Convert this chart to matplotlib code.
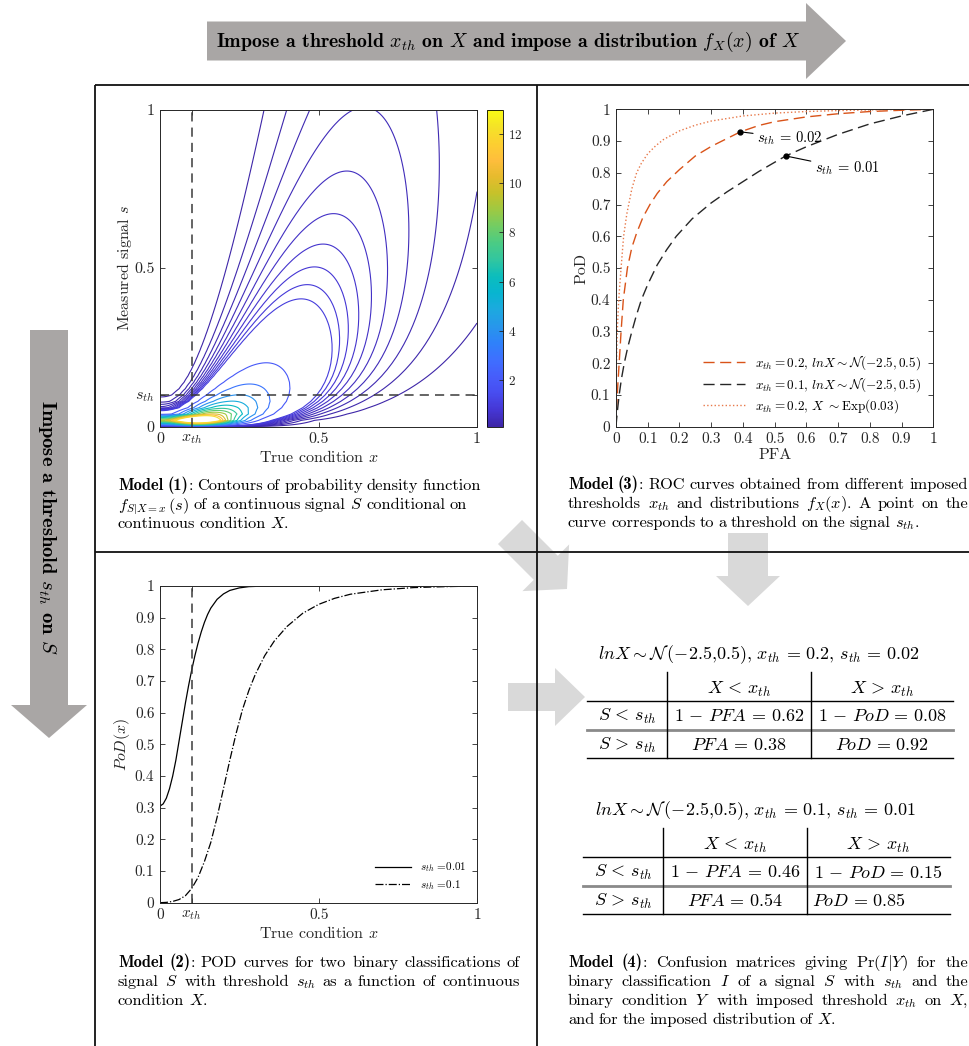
import numpy as np
import matplotlib
matplotlib.use("Agg")
import matplotlib.pyplot as plt
from matplotlib.colors import LinearSegmentedColormap, Normalize
from matplotlib.cm import ScalarMappable
from matplotlib.patches import Polygon

plt.rcParams['font.family'] = 'serif'
plt.rcParams['font.serif'] = ['cmr10']
plt.rcParams['mathtext.fontset'] = 'cm'
plt.rcParams['axes.formatter.use_mathtext'] = True
plt.rcParams['axes.unicode_minus'] = False

# ---------------- data ----------------
# Model (1): lognormal signal S|X=x, median m(x) = m0 + a x^p, log-sd sigma,
# evaluated on a coarse signal grid (step 0.02) as in the original figure
med_m0, med_a, med_p = 0.006, 3.0, 2.5
sig_log = 0.99
s_step = 0.02
x_th, s_th = 0.1, 0.1
contour_levels = [0.1, 0.2, 0.3, 0.4, 0.5, 0.6, 0.7, 0.8, 0.9, 1, 2, 3, 4, 5, 6, 7, 8, 9, 10, 11, 12]
cbar_range = (0.1, 13)
cbar_ticks = [2, 4, 6, 8, 10, 12]

# Model (2): PoD(x) curves
pod_x_a = [0, 0.01, 0.02, 0.03, 0.04, 0.05, 0.06, 0.07, 0.08, 0.09, 0.1, 0.11, 0.12, 0.13,
           0.14, 0.15, 0.16, 0.18, 0.2, 0.22, 0.25, 0.28, 0.32, 0.38, 0.45, 0.6, 1.0]
pod_y_a = [0.305, 0.312, 0.33, 0.36, 0.40, 0.45, 0.51, 0.57, 0.63, 0.685, 0.735, 0.78, 0.82,
           0.855, 0.885, 0.91, 0.93, 0.958, 0.975, 0.986, 0.994, 0.998, 0.9995, 1, 1, 1, 1]
pod_x_b = [0, 0.02, 0.04, 0.06, 0.08, 0.1, 0.12, 0.14, 0.16, 0.18, 0.2, 0.22, 0.24, 0.26,
           0.28, 0.3, 0.33, 0.36, 0.4, 0.45, 0.5, 0.55, 0.6, 0.7, 0.8, 0.9, 1.0]
pod_y_b = [0.0, 0.001, 0.004, 0.01, 0.022, 0.045, 0.08, 0.13, 0.19, 0.27, 0.36, 0.45, 0.535,
           0.61, 0.67, 0.72, 0.78, 0.826, 0.872, 0.914, 0.942, 0.961, 0.974, 0.988, 0.995, 0.998, 1.0]
pod_labels = [r'$s_{th}$ =0.01', r'$s_{th}$ =0.1']

# Model (3): ROC curves
roc_a_pfa = [0, 0.002, 0.005, 0.01, 0.016, 0.023, 0.036, 0.05, 0.065, 0.085, 0.107, 0.13,
             0.16, 0.2, 0.25, 0.3, 0.35, 0.392, 0.45, 0.5, 0.6, 0.7, 0.8, 0.9, 1.0]
roc_a_pod = [0, 0.06, 0.12, 0.2, 0.3, 0.4, 0.5, 0.565, 0.61, 0.66, 0.7, 0.735,
             0.772, 0.81, 0.853, 0.883, 0.908, 0.929, 0.949, 0.961, 0.976, 0.986, 0.993, 0.997, 1.0]
roc_b_pfa = [0, 0.002, 0.005, 0.01, 0.017, 0.026, 0.037, 0.05, 0.064, 0.08, 0.1, 0.13, 0.16,
             0.19, 0.24, 0.3, 0.35, 0.4, 0.45, 0.5, 0.535, 0.6, 0.7, 0.8, 0.9, 1.0]
roc_b_pod = [0, 0.025, 0.055, 0.1, 0.15, 0.2, 0.25, 0.3, 0.35, 0.4, 0.448, 0.51, 0.558,
             0.6, 0.655, 0.705, 0.74, 0.772, 0.804, 0.833, 0.853, 0.882, 0.921, 0.954, 0.979, 1.0]
roc_c_pfa = [0, 0.001, 0.002, 0.004, 0.007, 0.01, 0.016, 0.024, 0.034, 0.05, 0.065, 0.08,
             0.1, 0.125, 0.15, 0.2, 0.25, 0.3, 0.4, 0.5, 0.6, 0.7, 0.85, 1.0]
roc_c_pod = [0, 0.15, 0.22, 0.3, 0.37, 0.42, 0.5, 0.6, 0.67, 0.75, 0.8, 0.83,
             0.86, 0.885, 0.905, 0.932, 0.95, 0.963, 0.979, 0.988, 0.993, 0.996, 0.999, 1.0]
roc_labels = [r'$x_{th}=0.2,\, lnX\sim\mathcal{N}(-2.5,0.5)$',
              r'$x_{th}=0.1,\, lnX\sim\mathcal{N}(-2.5,0.5)$',
              r'$x_{th}=0.2,\, X\ {\sim}$Exp$(0.03)$']
mark_pfa = [0.392, 0.535]
mark_pod = [0.929, 0.853]
mark_text = [r'$s_{th}\,=\,0.02$', r'$s_{th}\,=\,0.01$']
mark_text_pos = [(0.445, 0.91), (0.627, 0.813)]

# Model (4): confusion matrices
tab_titles = [r'$lnX{\sim}\mathcal{N}\,(-2.5{,}0.5),\,x_{th}\,=\,0.2,\,s_{th}\,=\,0.02$',
              r'$lnX{\sim}\mathcal{N}\,(-2.5{,}0.5),\,x_{th}\,=\,0.1,\,s_{th}\,=\,0.01$']
tab_pfa = [0.38, 0.54]
tab_pod = [0.92, 0.85]

parula = LinearSegmentedColormap.from_list('parula', [
    (0.2422, 0.1504, 0.6603), (0.2706, 0.2147, 0.8364), (0.2813, 0.3006, 0.9414),
    (0.2760, 0.3667, 0.9829), (0.2440, 0.4358, 0.9988), (0.1834, 0.5074, 0.9798),
    (0.1540, 0.5902, 0.9218), (0.1113, 0.6635, 0.8763), (0.0297, 0.7082, 0.8163),
    (0.0433, 0.7411, 0.7394), (0.1938, 0.7758, 0.6251), (0.2906, 0.7973, 0.5188),
    (0.4456, 0.8024, 0.3909), (0.6174, 0.7876, 0.2612), (0.7738, 0.7598, 0.1646),
    (0.9035, 0.7330, 0.1774), (0.9956, 0.7434, 0.2371), (0.9892, 0.8136, 0.1885),
    (0.9610, 0.8890, 0.1537), (0.9769, 0.9839, 0.0805)])

axcol = '#262626'
W, H = 970, 1046

fig = plt.figure(figsize=(9.7, 10.46), dpi=100)
ov = fig.add_axes([0, 0, 1, 1])
ov.set_xlim(0, W)
ov.set_ylim(H, 0)
ov.axis('off')


def px_axes(x0, y0, x1, y1):
    return fig.add_axes([x0 / W, 1 - y1 / H, (x1 - x0) / W, (y1 - y0) / H])


def arrow(x0, y0, x1, y1, body, head, head_len, color):
    d = np.array([x1 - x0, y1 - y0], float)
    L = np.hypot(*d)
    u = d / L
    n = np.array([-u[1], u[0]])
    a = L - head_len
    loc = [(0, -body / 2), (a, -body / 2), (a, -head / 2), (L, 0),
           (a, head / 2), (a, body / 2), (0, body / 2)]
    pts = [np.array([x0, y0]) + p * u + q * n for p, q in loc]
    ov.add_patch(Polygon(pts, closed=True, facecolor=color, edgecolor='none'))


def style(ax, size=11):
    ax.tick_params(direction='in', top=True, right=True, length=3.5, width=0.6,
                   colors=axcol, labelsize=size, pad=4)
    for sp in ax.spines.values():
        sp.set_linewidth(0.7)
        sp.set_color(axcol)


# panel borders
for xs, ys in [([95, 95], [85, H]), ([537, 537], [85, H]), ([95, W], [85, 85]), ([95, W], [552, 552])]:
    ov.plot(xs, ys, color='#111111', lw=1.3, solid_capstyle='butt')

# big grey arrows
arrow(207, 41, 846, 41, 39, 76, 40, '#a9a6a5')
arrow(49, 330, 49, 738, 38, 76, 33, '#a9a6a5')
ov.text(508, 42, r'Impose a threshold $x_{th}$ on $X$ and impose a distribution $f_X(x)$ of $X$',
        family='cmb10', fontsize=14.3, ha='center', va='center')
ov.text(47, 527, r'Impose a threshold $s_{th}$ on $S$', family='cmb10', fontsize=14.8,
        ha='center', va='center', rotation=-90)

# light grey arrows
arrow(510, 532, 567, 589, 34, 66, 30, '#d9d9d9')
arrow(748, 533, 748, 606, 40, 64, 30, '#d9d9d9')
arrow(508, 697, 585, 697, 28, 58, 30, '#d9d9d9')

# ---------------- Model (1) contour ----------------
ax1 = px_axes(160, 109.5, 477, 426.7)
xg = np.linspace(0, 1, 201)
sg = np.arange(0, 1 + s_step / 2, s_step)
Xg, Sg = np.meshgrid(xg, sg)
med = med_m0 + med_a * Xg ** med_p
with np.errstate(divide='ignore', invalid='ignore'):
    Z = np.exp(-(np.log(Sg) - np.log(med)) ** 2 / (2 * sig_log ** 2)) / (Sg * sig_log * np.sqrt(2 * np.pi))
Z[0, :] = 0
norm = Normalize(*cbar_range)
ax1.contour(Xg, Sg, Z, levels=contour_levels, cmap=parula, norm=norm, linewidths=0.8)
ax1.axvline(x_th, color='#3a3a3a', lw=1.1, dashes=(6, 4))
ax1.axhline(s_th, color='#3a3a3a', lw=1.1, dashes=(6, 4))
ax1.set_xlim(0, 1)
ax1.set_ylim(0, 1)
ax1.set_xticks([0, x_th, 0.5, 1], ['0', r'$x_{th}$', '0.5', '1'])
ax1.set_yticks([0, s_th, 0.5, 1], ['0', r'$s_{th}$', '0.5', '1'])
style(ax1, 11.5)
ax1.set_xlabel(r'True condition $x$', fontsize=11.5, color=axcol, labelpad=2)
ax1.set_ylabel(r'Measured signal $s$', fontsize=11.5, color=axcol, labelpad=0)

cax = px_axes(487.5, 109.5, 503.3, 426.7)
cb = fig.colorbar(ScalarMappable(norm=norm, cmap=parula), cax=cax)
cb.set_ticks(cbar_ticks)
cb.outline.set_linewidth(0.6)
cax.tick_params(direction='in', length=3, width=0.6, colors=axcol, labelsize=9.5)

# ---------------- Model (3) ROC ----------------
ax3 = px_axes(616, 109.3, 933.3, 426.7)
ax3.plot(roc_a_pfa, roc_a_pod, color='#D95319', lw=1.0, dashes=(8, 4), label=roc_labels[0])
ax3.plot(roc_b_pfa, roc_b_pod, color='#262626', lw=1.0, dashes=(8, 4), label=roc_labels[1])
ax3.plot(roc_c_pfa, roc_c_pod, color='#E8794A', lw=1.0, ls=':', label=roc_labels[2])
ax3.plot(mark_pfa, mark_pod, 'o', color='k', ms=3.5)
for px, py, t, tp in zip(mark_pfa, mark_pod, mark_text, mark_text_pos):
    ax3.annotate(t, xy=(px, py), xytext=tp, fontsize=10.5, va='center', ha='left',
                 arrowprops=dict(arrowstyle='-', color='k', lw=0.8, shrinkA=1, shrinkB=0))
ax3.set_xlim(0, 1)
ax3.set_ylim(0, 1)
ticks = np.round(np.arange(0, 1.01, 0.1), 1)
tl = ['0'] + [f'{t:.1f}' for t in ticks[1:-1]] + ['1']
ax3.set_xticks(ticks, tl)
ax3.set_yticks(ticks, tl)
style(ax3)
ax3.set_xlabel('PFA', fontsize=11.5, color=axcol, labelpad=2)
ax3.set_ylabel('PoD', fontsize=11.5, color=axcol, labelpad=2)
ax3.legend(loc='lower right', frameon=False, fontsize=9.5, handlelength=3.2,
           labelspacing=0.25, borderaxespad=0.5)

# ---------------- Model (2) PoD ----------------
ax2 = px_axes(160, 586, 477.3, 902.7)
ax2.plot(pod_x_a, pod_y_a, color='k', lw=0.9, label=pod_labels[0])
ax2.plot(pod_x_b, pod_y_b, color='k', lw=0.9, ls='-.', label=pod_labels[1])
ax2.axvline(x_th, color='#3a3a3a', lw=1.1, dashes=(6, 4))
ax2.set_xlim(0, 1)
ax2.set_ylim(0, 1)
ax2.set_xticks([0, x_th, 0.5, 1], ['0', r'$x_{th}$', '0.5', '1'])
ax2.set_yticks(ticks, tl)
style(ax2)
ax2.set_xlabel(r'True condition $x$', fontsize=11.5, color=axcol, labelpad=2)
ax2.set_ylabel(r'$PoD(x)$', fontsize=11.5, color=axcol, labelpad=2)
ax2.legend(loc='lower right', frameon=False, fontsize=8, handlelength=3.2,
           labelspacing=0.3, borderaxespad=0.6)

# ---------------- captions ----------------
cap_fs = 11.8
renderer = fig.canvas.get_renderer()


def word(x, y, w):
    # '**bold**rest' -> bold part in cmb10, rest regular
    parts = []
    if w.startswith('**'):
        b, rest = w[2:].split('**', 1)
        parts.append(ov.text(x, y, b, fontsize=cap_fs, va='baseline', family='cmb10'))
        if rest:
            parts.append(ov.text(x, y, rest, fontsize=cap_fs, va='baseline'))
    else:
        parts.append(ov.text(x, y, w, fontsize=cap_fs, va='baseline'))
    return parts


def put_lines(lines, x0, x1, y0, dy, justify):
    for i, line in enumerate(lines):
        words = [word(0, y0 + i * dy, w) for w in line.split(' ')]
        ws = [[p.get_window_extent(renderer).width for p in ps] for ps in words]
        tot = [sum(w) for w in ws]
        last = (i == len(lines) - 1) or not justify
        gap = 4.2 if last else (x1 - x0 - sum(tot)) / (len(tot) - 1)
        x = x0
        for ps, w, t in zip(words, ws, tot):
            xx = x
            for p, pw in zip(ps, w):
                p.set_x(xx)
                xx += pw
            x += t + gap


put_lines([r'**Model** **(1)**: Contours of probability density function',
           r'$f_{S|X=x}\,(s)$ of a continuous signal $S$ conditional on',
           r'continuous condition $X$.'], 118, 486, 490, 19, False)
put_lines([r'**Model** **(3)**: ROC curves obtained from different imposed',
           r'thresholds $x_{th}$ and distributions $f_X(x)$. A point on the',
           r'curve corresponds to a threshold on the signal $s_{th}$.'], 568, 968, 489, 19, True)
put_lines([r'**Model** **(2)**: POD curves for two binary classifications of',
           r'signal $S$ with threshold $s_{th}$ as a function of continuous',
           r'condition $X$.'], 118, 520, 967, 19, True)
put_lines([r'**Model** **(4)**: Confusion matrices giving Pr$(I|Y)$ for the',
           r'binary classification $I$ of a signal $S$ with $s_{th}$ and the',
           r'binary condition $Y$ with imposed threshold $x_{th}$ on $X$,',
           r'and for the imposed distribution of $X$.'], 568, 968, 967, 19, True)

# ---------------- tables ----------------
tab_fs = 13
tables = [dict(title_x=598, top=655, x0=587, x1=953, v1=667, v2=811, left_last=False),
          dict(title_x=595, top=811, x0=583, x1=950, v1=663, v2=807, left_last=True)]
for k, tb in enumerate(tables):
    y = tb['top']
    ov.text(tb['title_x'], y, tab_titles[k], fontsize=tab_fs, va='center', ha='left')
    c0 = (tb['x0'] + tb['v1']) / 2
    c1 = (tb['v1'] + tb['v2']) / 2
    c2 = (tb['v2'] + tb['x1']) / 2
    yh, yr1, yr2 = y + 34, y + 61, y + 90
    ov.text(c1, yh, r'$X\,<\,x_{th}$', fontsize=tab_fs, ha='center', va='center')
    ov.text(c2, yh, r'$X\,>\,x_{th}$', fontsize=tab_fs, ha='center', va='center')
    ov.text(c0, yr1, r'$S\,<\,s_{th}$', fontsize=tab_fs, ha='center', va='center')
    ov.text(c0, yr2, r'$S\,>\,s_{th}$', fontsize=tab_fs, ha='center', va='center')
    ov.text(c1, yr1, rf'$1\,-\,PFA\,=\,{1 - tab_pfa[k]:.2f}$', fontsize=tab_fs, ha='center', va='center')
    ov.text(c2, yr1, rf'$1\,-\,PoD\,=\,{1 - tab_pod[k]:.2f}$', fontsize=tab_fs, ha='center', va='center')
    ov.text(c1, yr2, rf'$PFA\,=\,{tab_pfa[k]:.2f}$', fontsize=tab_fs, ha='center', va='center')
    if tb['left_last']:
        ov.text(tb['v2'] + 5, yr2, rf'$PoD\,=\,{tab_pod[k]:.2f}$', fontsize=tab_fs, ha='left', va='center')
    else:
        ov.text(c2, yr2, rf'$PoD\,=\,{tab_pod[k]:.2f}$', fontsize=tab_fs, ha='center', va='center')
    ov.plot([tb['x0'], tb['x1']], [y + 46, y + 46], color='k', lw=1.0)
    ov.plot([tb['x0'], tb['x1']], [y + 75, y + 75], color='#8a8a8a', lw=2.0)
    ov.plot([tb['x0'], tb['x1']], [y + 103, y + 103], color='k', lw=1.0)
    for vx in (tb['v1'], tb['v2']):
        ov.plot([vx, vx], [y + 17, y + 103], color='k', lw=1.0)

fig.savefig('out.png', dpi=100, facecolor='white')
